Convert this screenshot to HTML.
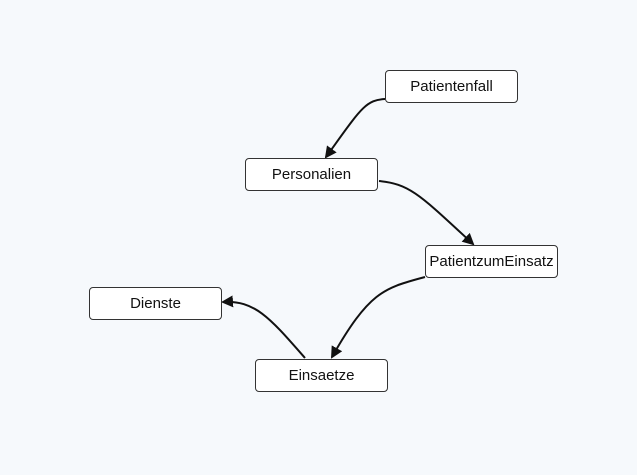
<!DOCTYPE html>
<html><head><style>
body{margin:0;width:637px;height:475px;background:#f6f9fc;overflow:hidden;font-family:"Liberation Sans",sans-serif}
.n{position:absolute;width:131px;height:31px;border:1px solid #333;border-radius:4px;background:#fff;font-size:15px;color:#111;display:flex;align-items:center;justify-content:center}
</style></head><body>
<svg width="637" height="475" style="position:absolute;left:0;top:0">
<defs><marker id="a" markerWidth="12" markerHeight="12" refX="10" refY="6" orient="auto" markerUnits="userSpaceOnUse"><path d="M0,0 L12,6 L0,12 z" fill="#111"/></marker></defs>
<g fill="none" stroke="#111" stroke-width="2" marker-end="url(#a)">
<path d="M385,99 C365,100 360,110 326,157"/>
<path d="M379,181 C410,184 420,195 473,244"/>
<path d="M425,277 C385,288 370,290 332,357"/>
<path d="M305,358 C270,318 255,300 223,302"/>
</g></svg>
<div class="n" style="left:385px;top:70px">Patientenfall</div>
<div class="n" style="left:245px;top:158px">Personalien</div>
<div class="n" style="left:425px;top:245px">PatientzumEinsatz</div>
<div class="n" style="left:89px;top:287px">Dienste</div>
<div class="n" style="left:255px;top:359px">Einsaetze</div>
</body></html>
